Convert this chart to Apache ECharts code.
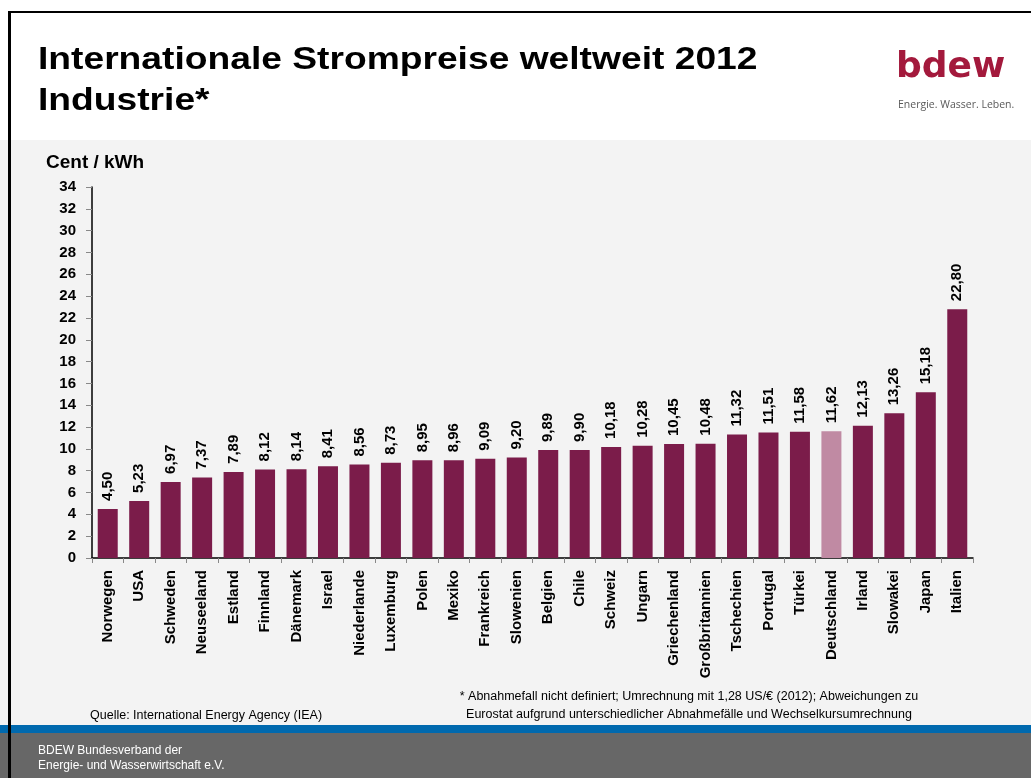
<!DOCTYPE html>
<html>
<head>
<meta charset="utf-8">
<script src="https://cdn.jsdelivr.net/npm/echarts@6/dist/echarts.min.js"></script>
<style>
html,body{margin:0;padding:0;background:#fff;}
#chart{width:1031px;height:778px;}
</style>
</head>
<body>
<div id="chart"></div>
<script>
const categories = ["Norwegen","USA","Schweden","Neuseeland","Estland","Finnland","Dänemark","Israel","Niederlande","Luxemburg","Polen","Mexiko","Frankreich","Slowenien","Belgien","Chile","Schweiz","Ungarn","Griechenland","Großbritannien","Tschechien","Portugal","Türkei","Deutschland","Irland","Slowakei","Japan","Italien"];
const values = [4.50,5.23,6.97,7.37,7.89,8.12,8.14,8.41,8.56,8.73,8.95,8.96,9.09,9.20,9.89,9.90,10.18,10.28,10.45,10.48,11.32,11.51,11.58,11.62,12.13,13.26,15.18,22.80];
const highlighted = "Deutschland";
const titleLines = ["Internationale Strompreise weltweit 2012", "Industrie*"];
const unitLabel = "Cent / kWh";
const sourceText = "Quelle: International Energy Agency (IEA)";
const noteLines = ["* Abnahmefall nicht definiert; Umrechnung mit 1,28 US/€ (2012); Abweichungen zu", "Eurostat aufgrund unterschiedlicher Abnahmefälle und Wechselkursumrechnung"];
const footerLines = ["BDEW Bundesverband der", "Energie- und Wasserwirtschaft e.V."];

const BAR = '#7b1c4a', BAR_HL = '#c08aa3';
const chart = echarts.init(document.getElementById('chart'), null, {renderer:'canvas'});
const font = '"Liberation Sans", Arial, sans-serif';

chart.setOption({
  backgroundColor: '#ffffff',
  animation: false,
  grid: {left: 92, right: 58, top: 187, bottom: 220, containLabel: false},
  xAxis: {
    type: 'category',
    data: categories,
    axisLine: {lineStyle: {color: '#000', width: 1.5}},
    axisTick: {show: true, length: 5, lineStyle: {color: '#888'}},
    axisLabel: {rotate: 90, margin: 12, color: '#000', fontFamily: font, fontWeight: 'bold', fontSize: 15, interval: 0}
  },
  yAxis: {
    type: 'value', min: 0, max: 34, interval: 2,
    axisLine: {show: true, lineStyle: {color: '#000', width: 1.5}},
    axisTick: {show: true, length: 6, lineStyle: {color: '#888'}},
    splitLine: {show: false},
    axisLabel: {margin: 16, color: '#000', fontFamily: font, fontWeight: 'bold', fontSize: 15}
  },
  series: [{
    type: 'bar',
    barWidth: 20,
    data: values.map((v, i) => ({value: v, itemStyle: {color: categories[i] === highlighted ? BAR_HL : BAR}})),
    label: {
      show: true, position: 'top', rotate: 90, align: 'left', verticalAlign: 'middle', distance: 8,
      color: '#000', fontFamily: font, fontWeight: 'bold', fontSize: 15,
      formatter: p => p.value.toFixed(2).replace('.', ',')
    }
  }],
  graphic: [
    {type: 'rect', z: -10, shape: {x: 0, y: 140, width: 1031, height: 586}, style: {fill: '#f3f3f3'}, silent: true},
    {type: 'rect', z: -10, shape: {x: 0, y: 725, width: 1031, height: 8}, style: {fill: '#0069ae'}, silent: true},
    {type: 'rect', z: -10, shape: {x: 0, y: 733, width: 1031, height: 45}, style: {fill: '#676767'}, silent: true},
    {type: 'rect', z: 10, shape: {x: 8, y: 11, width: 1023, height: 2}, style: {fill: '#000'}, silent: true},
    {type: 'rect', z: 10, shape: {x: 8, y: 11, width: 3, height: 767}, style: {fill: '#000'}, silent: true},
    {type: 'text', z: 10, x: 38, y: 60, scaleX: 1.2, style: {text: titleLines[0], fill: '#000', font: 'bold 31px ' + font, verticalAlign: 'middle'}},
    {type: 'text', z: 10, x: 38, y: 101, scaleX: 1.2, style: {text: titleLines[1], fill: '#000', font: 'bold 31px ' + font, verticalAlign: 'middle'}},
    {type: 'text', z: 10, x: 896, y: 68, style: {text: 'bdew', fill: '#a3193c', font: 'bold 36px "DejaVu Sans", sans-serif', verticalAlign: 'middle'}},
    {type: 'text', z: 10, x: 898, y: 105, style: {text: 'Energie. Wasser. Leben.', fill: '#5a5a5a', font: '10.5px "Open Sans", sans-serif', verticalAlign: 'middle'}},
    {type: 'text', z: 10, x: 46, y: 163, style: {text: unitLabel, fill: '#000', font: 'bold 19px ' + font, verticalAlign: 'middle'}},
    {type: 'text', z: 10, x: 90, y: 716, style: {text: sourceText, fill: '#000', font: '12.5px ' + font, verticalAlign: 'middle'}},
    {type: 'text', z: 10, x: 689, y: 697, style: {text: noteLines[0], fill: '#000', font: '12.5px ' + font, align: 'center', verticalAlign: 'middle'}},
    {type: 'text', z: 10, x: 689, y: 715, style: {text: noteLines[1], fill: '#000', font: '12.5px ' + font, align: 'center', verticalAlign: 'middle'}},
    {type: 'text', z: 10, x: 38, y: 751, style: {text: footerLines[0], fill: '#fff', font: '12px ' + font, verticalAlign: 'middle'}},
    {type: 'text', z: 10, x: 38, y: 766, style: {text: footerLines[1], fill: '#fff', font: '12px ' + font, verticalAlign: 'middle'}}
  ]
});
</script>
</body>
</html>
